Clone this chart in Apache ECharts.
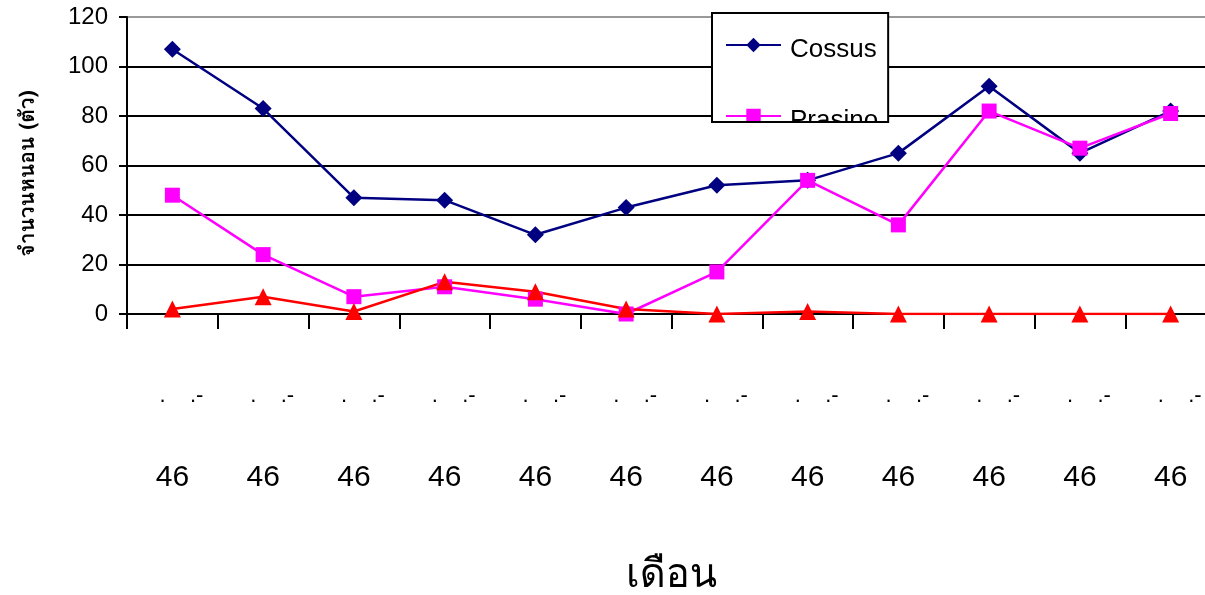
<!DOCTYPE html>
<html>
<head>
<meta charset="utf-8">
<script src="https://cdn.jsdelivr.net/npm/echarts@6/dist/echarts.min.js"></script>
<style>
  html, body { margin: 0; padding: 0; background: #fff; }
  #chart { width: 1205px; height: 595px; }
</style>
</head>
<body>
<div id="chart"></div>
<script>
// Month labels (Thai month abbreviations rendered as dots) and year
const monthLabels = ['.    .-', '.    .-', '.    .-', '.    .-', '.    .-', '.    .-',
                     '.    .-', '.    .-', '.    .-', '.    .-', '.    .-', '.    .-'];
const yearLabels = ['46', '46', '46', '46', '46', '46', '46', '46', '46', '46', '46', '46'];
const categories = monthLabels.map((m, i) => m + '|' + yearLabels[i]);

// Larvae counts per month
const cossus  = [107, 83, 47, 46, 32, 43, 52, 54, 65, 92, 65, 82];
const prasino = [48, 24, 7, 11, 6, 0, 17, 54, 36, 82, 67, 81];
const others  = [2, 7, 1, 13, 9, 2, 0, 1, 0, 0, 0, 0];

const yTicks = { min: 0, max: 120, interval: 20 };

const chart = echarts.init(document.getElementById('chart'), null, { renderer: 'canvas' });

const latin = 'Arial, "Liberation Sans", sans-serif';
const thaiFont = 'Tahoma, Loma, Garuda, "Noto Sans", "DejaVu Sans", sans-serif';

chart.setOption({
  animation: false,
  backgroundColor: '#fff',
  grid: {
    left: 127, top: 17, width: 1089, bottom: 281,
    containLabel: false, outerBoundsMode: 'none'
  },
  legend: {
    type: 'scroll',
    orient: 'vertical',
    left: 712,
    top: 13,
    height: 94.5,
    padding: [14.5, 10, 0, 13],
    itemGap: 36,
    itemWidth: 55,
    itemHeight: 18,
    backgroundColor: '#fff',
    borderColor: '#000',
    borderWidth: 2,
    borderRadius: 0,
    pageIconSize: 0,
    pageFormatter: '',
    pageButtonGap: 0,
    pageButtonItemGap: 0,
    pageTextStyle: { fontSize: 1 },
    formatter: '{t|{name}}',
    textStyle: {
      fontFamily: latin, fontSize: 26, color: '#000',
      rich: { t: { fontFamily: latin, fontSize: 26, color: '#000', lineHeight: 26, padding: [9, 0, 0, 4] } }
    },
    data: ['Cossus', 'Prasino', 'อื่นๆ']
  },
  xAxis: {
    type: 'category',
    data: categories,
    boundaryGap: true,
    name: 'เดือน',
    nameLocation: 'middle',
    nameGap: 244,
    nameTextStyle: { fontFamily: thaiFont, fontSize: 40, color: '#000' },
    axisLine: { lineStyle: { color: '#000', width: 2 } },
    axisTick: { show: true, length: 15, lineStyle: { color: '#000', width: 2 } },
    axisLabel: {
      interval: 0,
      margin: 62,
      formatter: function (v) {
        const p = v.split('|');
        return '{a|' + p[0] + '}\n{b|' + p[1] + '}';
      },
      rich: {
        a: { fontFamily: latin, fontSize: 22, lineHeight: 40, color: '#000', padding: [0, 0, 0, 18] },
        b: { fontFamily: latin, fontSize: 30, lineHeight: 124, color: '#000' }
      }
    },
    splitLine: { show: false }
  },
  yAxis: {
    type: 'value',
    min: yTicks.min,
    max: yTicks.max,
    interval: yTicks.interval,
    name: 'จำนวนหนอน (ตัว)',
    nameLocation: 'middle',
    nameGap: 87,
    nameRotate: 90,
    nameTextStyle: { fontFamily: thaiFont, fontSize: 21, fontWeight: 'bold', color: '#000', padding: [0, 16, 0, 0] },
    axisLine: { show: true, lineStyle: { color: '#000', width: 2 } },
    axisTick: { show: true, length: 8, lineStyle: { color: '#000', width: 2 } },
    axisLabel: { margin: 19, fontFamily: latin, fontSize: 24, color: '#000' },
    splitLine: {
      show: true,
      lineStyle: { color: ['#000', '#000', '#000', '#000', '#000', '#000', '#999'], width: 2 }
    }
  },
  series: [
    {
      name: 'Cossus', type: 'line', data: cossus,
      symbol: 'diamond', symbolSize: 17,
      lineStyle: { color: '#000080', width: 2.5 },
      itemStyle: { color: '#000080' }
    },
    {
      name: 'Prasino', type: 'line', data: prasino,
      symbol: 'rect', symbolSize: 15,
      lineStyle: { color: '#ff00ff', width: 2.5 },
      itemStyle: { color: '#ff00ff' }
    },
    {
      name: 'อื่นๆ', type: 'line', data: others,
      symbol: 'triangle', symbolSize: 17,
      lineStyle: { color: '#ff0000', width: 2.5 },
      itemStyle: { color: '#ff0000' }
    }
  ]
});
</script>
</body>
</html>
